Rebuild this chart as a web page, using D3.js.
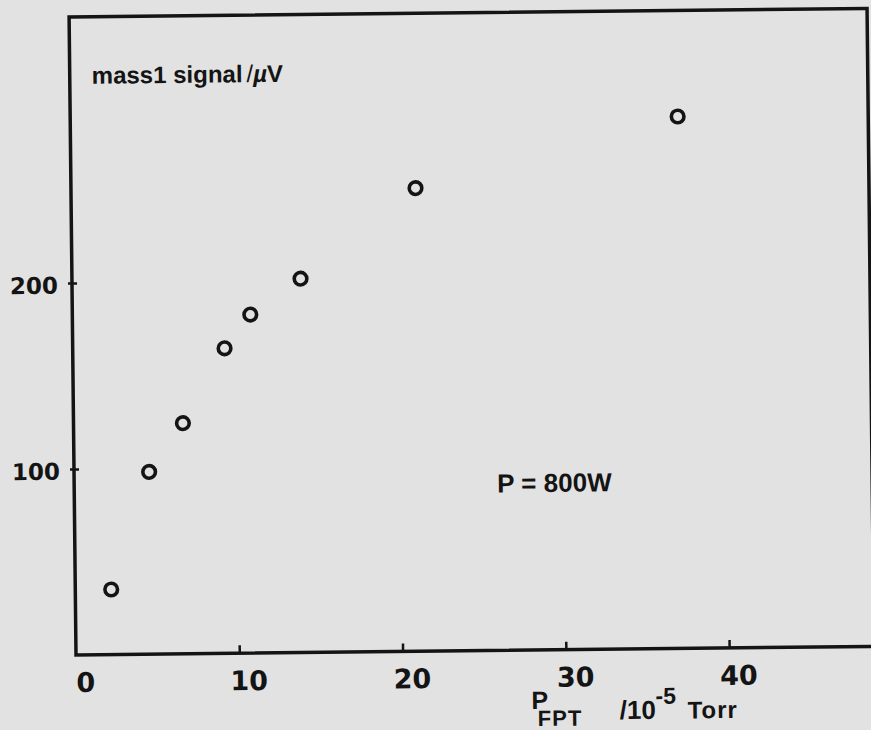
<!DOCTYPE html>
<html>
<head>
<meta charset="utf-8">
<script src="https://cdn.jsdelivr.net/npm/d3@7"></script>
<style>
  html, body { margin: 0; padding: 0; background: #e2e2e2; }
  svg { display: block; }
</style>
</head>
<body>
<script>
// Data (pressure in 10^-5 Torr, signal in µV)
const pressure = [2.2, 4.6, 6.7, 9.3, 10.9, 14.0, 21.1, 37.2];
const signal   = [35, 98, 124, 164, 182, 201, 249, 286];
const xTickValues = [0, 10, 20, 30, 40];
const yTickValues = [100, 200];

const W = 871, H = 730;
const ink = "#141414";
const svg = d3.select("body").append("svg").attr("width", W).attr("height", H);
svg.append("rect").attr("width", W).attr("height", H).attr("fill", "#e2e2e2");

const plotW = 798, plotH = 638;
const x = d3.scaleLinear().domain([0, 48.87]).range([0, plotW]);
const y = d3.scaleLinear().domain([0, 343]).range([0, -plotH]);

// scanned page is slightly rotated
const g = svg.append("g").attr("transform", "translate(76,655) rotate(-0.62)");

// frame
g.append("rect")
  .attr("x", 0).attr("y", -plotH).attr("width", plotW).attr("height", plotH)
  .attr("fill", "none").attr("stroke", ink).attr("stroke-width", 3.5);

// x axis
const xAxis = g.append("g")
  .call(d3.axisBottom(x).tickValues(xTickValues).tickSizeInner(-8).tickSizeOuter(0).tickFormat(d3.format("d")));
xAxis.select(".domain").remove();
xAxis.selectAll(".tick line").attr("stroke", ink).attr("stroke-width", 2.5)
  .attr("opacity", d => d === 0 ? 0 : 1);
xAxis.selectAll(".tick text")
  .attr("x", 9).attr("y", 37).attr("dy", null)
  .attr("fill", ink)
  .style("font-family", "'DejaVu Sans', sans-serif")
  .style("font-weight", "bold").style("font-size", "27px");

// y axis
const yAxis = g.append("g")
  .call(d3.axisLeft(y).tickValues(yTickValues).tickSizeInner(4).tickSizeOuter(0).tickFormat(d3.format("d")));
yAxis.select(".domain").remove();
yAxis.selectAll(".tick line").attr("x1", -4).attr("x2", 5)
  .attr("stroke", ink).attr("stroke-width", 2.5);
yAxis.selectAll(".tick text")
  .attr("x", -14).attr("y", 10).attr("dy", null)
  .attr("fill", ink)
  .style("font-family", "'DejaVu Sans', sans-serif")
  .style("font-weight", "bold").style("font-size", "23px");

// data points (open circles)
g.append("g").selectAll("circle")
  .data(pressure.map((p, i) => ({p, s: signal[i]})))
  .join("circle")
  .attr("cx", d => x(d.p)).attr("cy", d => y(d.s))
  .attr("r", 6.3)
  .attr("fill", "none").attr("stroke", ink).attr("stroke-width", 3.6);

const font = "'Liberation Sans', Arial, sans-serif";

// y axis title inside the frame
const yt = g.append("text")
  .attr("x", 22).attr("y", -571)
  .attr("fill", ink).style("font-family", font).style("font-weight", "bold").style("font-size", "24px");
yt.append("tspan").text("mass1 signal");
yt.append("tspan").attr("dx", 4).style("font-weight", "normal").text("/");
yt.append("tspan").style("font-style", "italic").text("µ");
yt.append("tspan").text("V");

// annotation
g.append("text")
  .attr("x", 423).attr("y", -158)
  .attr("fill", ink).style("font-family", font).style("font-weight", "bold").style("font-size", "26px")
  .text("P = 800W");

// x axis title: P_FPT /10^-5 Torr
const xt = g.append("text")
  .attr("x", 455).attr("y", 59)
  .attr("fill", ink).style("font-family", font).style("font-weight", "bold").style("font-size", "25px");
xt.append("tspan").text("P");
xt.append("tspan").attr("x", 461).attr("dy", 17).style("font-size", "22px")
  .style("letter-spacing", "1px").text("FPT");
xt.append("tspan").attr("x", 543).attr("dy", -6).style("letter-spacing", "0px").style("font-size", "26px").text("/10");
xt.append("tspan").attr("x", 579).attr("dy", -15).style("font-size", "23px").text("-5");
xt.append("tspan").attr("x", 611).attr("dy", 15).style("font-size", "24px")
  .style("letter-spacing", "1px").text("Torr");
</script>
</body>
</html>
